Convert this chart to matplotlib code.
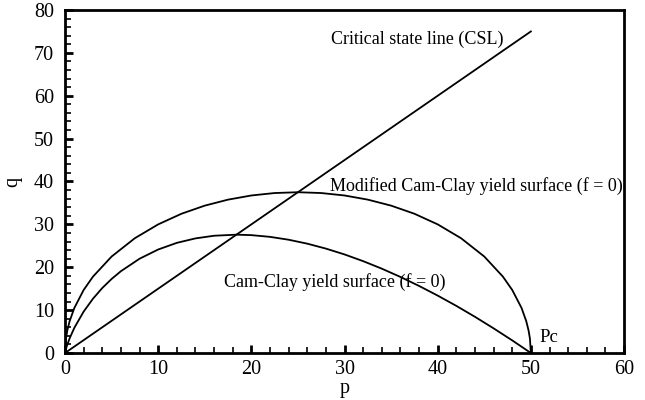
import matplotlib
matplotlib.use('Agg')
import matplotlib.pyplot as plt
from matplotlib.ticker import MultipleLocator

plt.rcParams['font.family'] = ['Liberation Serif', 'DejaVu Serif']

# Critical state line
csl_p = [0, 50]
csl_q = [0, 75]

# Modified Cam-Clay yield surface (ellipse)
mcc_p = [0, 0.1, 0.25, 0.5, 1, 2, 3, 5, 7.5, 10, 12.5, 15, 17.5, 20, 22.5, 25,
         27.5, 30, 32.5, 35, 37.5, 40, 42.5, 45, 47, 48, 49, 49.5, 49.75, 49.9, 50]
mcc_q = [0, 3.35, 5.29, 7.46, 10.5, 14.7, 17.81, 22.5, 26.78, 30.0, 32.48, 34.37, 35.77, 36.74, 37.31, 37.5,
         37.31, 36.74, 35.77, 34.37, 32.48, 30.0, 26.78, 22.5, 17.81, 14.7, 10.5, 7.46, 5.29, 3.35, 0]

# Cam-Clay yield surface
cc_p = [0, 0.05, 0.1, 0.25, 0.5, 1, 2, 3, 4, 5, 6, 8, 10, 12, 14, 16, 18.4, 20, 22, 24,
        26, 28, 30, 32, 34, 36, 38, 40, 42, 44, 46, 48, 50]
cc_q = [0, 0.52, 0.93, 1.99, 3.45, 5.87, 9.66, 12.66, 15.16, 17.27, 19.08, 21.99, 24.14, 25.69, 26.73, 27.35, 27.6,
        27.49, 27.09, 26.42, 25.5, 24.35, 22.99, 21.42, 19.67, 17.74, 15.64, 13.39, 10.99, 8.44, 5.75, 2.94, 0]

fig = plt.figure(figsize=(6.45, 4), dpi=100)
ax = fig.add_axes([0.1008, 0.1175, 0.8667, 0.8575])

ax.plot(csl_p, csl_q, color='black', lw=1.3)
ax.plot(mcc_p, mcc_q, color='black', lw=1.3)
ax.plot(cc_p, cc_q, color='black', lw=1.3)

ax.set_xlim(0, 60)
ax.set_ylim(0, 80)
ax.xaxis.set_major_locator(MultipleLocator(10))
ax.xaxis.set_minor_locator(MultipleLocator(2))
ax.yaxis.set_major_locator(MultipleLocator(10))
ax.yaxis.set_minor_locator(MultipleLocator(2))
ax.tick_params(which='both', direction='in', top=False, right=False, labelsize=14.5, width=1.2)
ax.tick_params(which='major', length=6, width=2)
ax.tick_params(which='minor', length=4)
ax.tick_params(axis='x', which='major', pad=5)
ax.tick_params(axis='y', which='major', pad=8)
for s in ax.spines.values():
    s.set_linewidth(2)

ax.set_xlabel('p', fontsize=14.5, labelpad=0)
ax.set_ylabel('q', fontsize=14.5, labelpad=8)

ax.text(28.6, 73.2, 'Critical state line (CSL)', fontsize=13, va='center')
ax.text(28.4, 39.0, 'Modified Cam-Clay yield surface (f = 0)', fontsize=13, va='center')
ax.text(17.1, 16.6, 'Cam-Clay yield surface (f = 0)', fontsize=13, va='center')
ax.text(50.9, 3.7, 'Pc', fontsize=13.5, va='center')

fig.savefig('out.png', dpi=100)
